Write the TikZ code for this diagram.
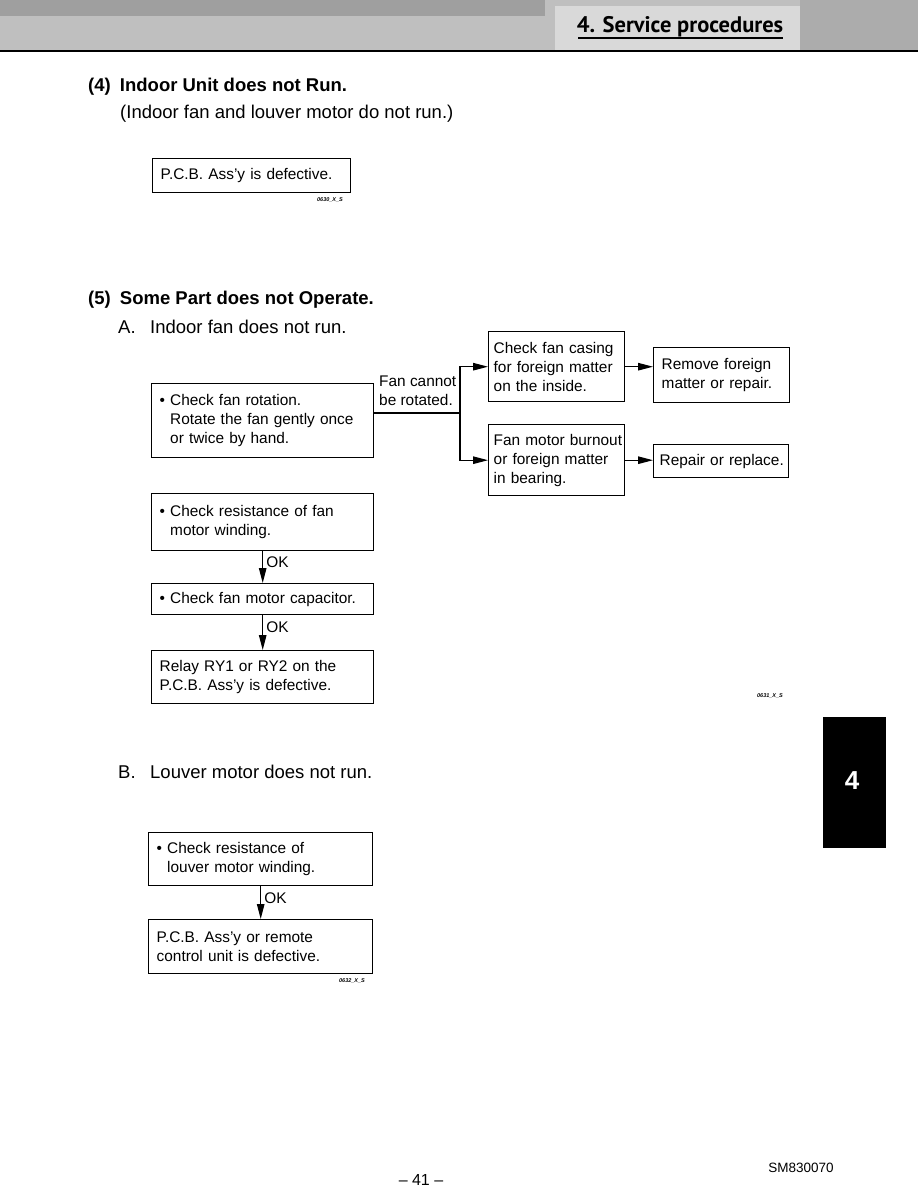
\documentclass[tikz,border=0pt]{standalone}
\usepackage{fontspec}
\setmainfont{Liberation Sans}
\newfontfamily\titlefont{PT Sans}
\usetikzlibrary{arrows.meta}
\newcommand{\bx}{\fontsize{15.4}{19}\selectfont}
\newcommand{\hd}{\fontsize{18.5}{22}\selectfont\bfseries}
\newcommand{\sbf}{\fontsize{18.5}{22}\selectfont}
\newcommand{\tg}{\fontsize{5.5}{6}\selectfont\bfseries\itshape}
\newcommand{\bul}{\textbullet\ }
\newcommand{\ind}{\hphantom{\textbullet\ }}
\begin{document}
\begin{tikzpicture}[x=1pt,y=-1pt,
  box/.style={draw, line width=1.4pt, anchor=north west, inner xsep=8pt, inner ysep=0pt, align=left, font=\bx},
  arr/.style={line width=1.2pt, -{Triangle[length=15pt,width=7.5pt]}},
  ln/.style={line width=1.2pt},
  head/.style={anchor=base west, inner sep=0pt, font=\hd},
  sub/.style={anchor=base west, inner sep=0pt, font=\sbf},
  tag/.style={font=\tg, inner sep=0pt},
  oklab/.style={right, font=\bx, inner sep=3pt}]
\useasboundingbox (0,0) rectangle (918,1188);

% header band
\fill[gray!50] (0,0) rectangle (918,50);
\fill[gray!75] (0,0) rectangle (545,16);
\fill[gray!30] (555,6) rectangle (800,50);
\fill[gray!65] (800,0) rectangle (918,50);
\draw[line width=2pt] (0,51) -- (918,51);
\node[font=\titlefont\bfseries\fontsize{22.5}{22}\selectfont, anchor=base, inner sep=0pt] (title) at (680,33) {4. Service procedures};
\draw[line width=2pt] (578,38) -- (783,38);

% section 4
\node[head] (h4) at (88,92) {(4)\hspace{4pt} Indoor Unit does not Run.};
\node[sub] (h4s) at (120,119) {(Indoor fan and louver motor do not run.)};
\node[box, text width=182pt, minimum height=34pt] (pcb1) at (152,158) {P.C.B. Ass'y is defective.};
\node[tag] (t1) at (330,200) {0630\_X\_S};

% section 5
\node[head] (h5) at (88,304) {(5)\hspace{4pt} Some Part does not Operate.};
\node[sub] (hA) at (118,333) {A.};
\node[sub] (hAt) at (150,333) {Indoor fan does not run.};

\node[box, text width=206pt, minimum height=74pt] (rot) at (151,383)
  {\bul Check fan rotation.\\\ind Rotate the fan gently once\\\ind or twice by hand.};
\node[box, inner xsep=5pt, text width=126pt, minimum height=70pt] (casing) at (488,331)
  {Check fan casing\\for foreign matter\\on the inside.};
\node[box, inner xsep=5pt, text width=126pt, minimum height=71pt] (burn) at (488,424)
  {\mbox{Fan motor burnout}\\or foreign matter\\in bearing.};
\node[box, text width=120pt, minimum height=55pt] (remove) at (653,347)
  {Remove foreign\\matter or repair.};
\node[box, inner xsep=6pt, text width=123pt, minimum height=33pt] (repair) at (653,444)
  {\mbox{Repair or replace.}};

\node[anchor=north west, align=left, inner sep=0pt, font=\bx] (fanlab) at (379,376) {Fan cannot\\be rotated.};
\coordinate (j) at (460,413);
\draw[ln] (rot.east |- j) -- (j);
\draw[arr] (j) |- (casing.west);
\draw[arr] (j) |- (burn.west);
\draw[arr] (casing.east) -- (casing.east -| remove.west);
\draw[arr] (burn.east) -- (burn.east -| repair.west);

\node[box, text width=206pt, minimum height=57pt] (res) at (151,493)
  {\bul Check resistance of fan\\\ind motor winding.};
\node[box, text width=206pt, minimum height=31pt] (cap) at (151,583)
  {\bul Check fan motor capacitor.};
\node[box, text width=206pt, minimum height=53pt] (relay) at (151,650)
  {Relay RY1 or RY2 on the\\P.C.B. Ass'y is defective.};
\draw[arr] (res.south) -- node[oklab, pos=0.35] {OK} (cap.north);
\draw[arr] (cap.south) -- node[oklab, pos=0.35] {OK} (relay.north);
\node[tag] (t2) at (770,696) {0631\_X\_S};

% B
\node[sub] (hB) at (118,778) {B.};
\node[sub] (hBt) at (150,778) {Louver motor does not run.};
\node[box, text width=208pt, minimum height=53pt] (lres) at (148,832)
  {\bul Check resistance of\\\ind louver motor winding.};
\node[box, text width=208pt, minimum height=54pt] (lpcb) at (148,919)
  {P.C.B. Ass'y or remote\\control unit is defective.};
\draw[arr] (lres.south) -- node[oklab, pos=0.35] {OK} (lpcb.north);
\node[tag] (t3) at (352,981) {0632\_X\_S};

% side tab
\fill (823,717) rectangle (886,848);
\node[white, font=\fontsize{26}{26}\selectfont\bfseries] (tab) at (852,781) {4};

% footer
\node[font=\fontsize{16}{16}\selectfont] (pg) at (421,1180) {– 41 –};
\node[font=\fontsize{13.5}{14}\selectfont] (sm) at (801,1168) {SM830070};
\end{tikzpicture}
\end{document}
